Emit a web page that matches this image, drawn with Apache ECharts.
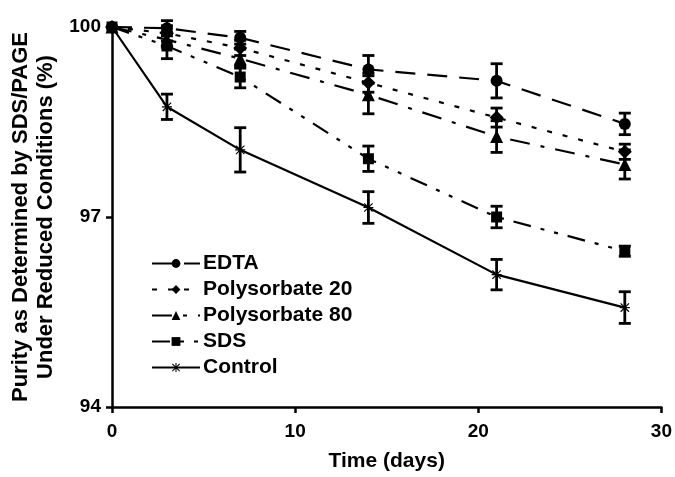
<!DOCTYPE html>
<html>
<head>
<meta charset="utf-8">
<script src="https://cdn.jsdelivr.net/npm/echarts@6/dist/echarts.min.js"></script>
<style>
  html, body { margin: 0; padding: 0; background: #fff; }
  #chart { width: 675px; height: 477px; }
</style>
</head>
<body>
<div id="chart"></div>
<script>
  // data
  var days = [0, 3, 7, 14, 21, 28];
  var edta = [100, 99.98, 99.83, 99.33, 99.15, 98.47];
  var edtaErr = [0, 0.12, 0.1, 0.22, 0.27, 0.17];
  var poly20 = [100, 99.9, 99.67, 99.12, 98.57, 98.03];
  var poly20Err = [0, 0.12, 0.12, 0.15, 0.15, 0.12];
  var poly80 = [100, 99.8, 99.5, 98.93, 98.27, 97.83];
  var poly80Err = [0, 0.12, 0.15, 0.3, 0.25, 0.23];
  var sds = [100, 99.7, 99.21, 97.92, 97.0, 96.46];
  var sdsErr = [0, 0.2, 0.17, 0.2, 0.17, 0.08];
  var control = [100, 98.74, 98.06, 97.15, 96.09, 95.57];
  var controlErr = [0, 0.2, 0.35, 0.25, 0.24, 0.25];
  var yTicks = [94, 97, 100];
  var xTicks = [0, 10, 20, 30];

  var font = 'Liberation Sans, Arial, sans-serif';
  var asterisk = 'path://M4.4,0h1.2v10h-1.2z M0,4.4h10v1.2h-10z M1.2,0.4l8.4,8.4l-0.8,0.8l-8.4,-8.4z M8.8,0.4l0.8,0.8l-8.4,8.4l-0.8,-0.8z';

  function pairs(vals) {
    return days.map(function (d, i) { return [d, vals[i]]; });
  }
  function errData(vals, errs) {
    var out = [];
    days.forEach(function (d, i) {
      if (errs[i] > 0) out.push([d, vals[i] - errs[i], vals[i] + errs[i]]);
    });
    return out;
  }
  function errorBars(name, vals, errs) {
    return {
      name: name + ' err',
      type: 'custom',
      z: 5,
      silent: true,
      data: errData(vals, errs),
      renderItem: function (params, api) {
        var lo = api.coord([api.value(0), api.value(1)]);
        var hi = api.coord([api.value(0), api.value(2)]);
        var w = 6;
        var st = { stroke: '#000', lineWidth: 2.8 };
        return {
          type: 'group',
          children: [
            { type: 'line', shape: { x1: lo[0], y1: lo[1], x2: hi[0], y2: hi[1] }, style: st },
            { type: 'line', shape: { x1: lo[0] - w, y1: lo[1], x2: lo[0] + w, y2: lo[1] }, style: st },
            { type: 'line', shape: { x1: hi[0] - w, y1: hi[1], x2: hi[0] + w, y2: hi[1] }, style: st }
          ]
        };
      }
    };
  }
  function lineSeries(name, vals, symbol, size, dash) {
    return {
      name: name,
      type: 'line',
      data: pairs(vals),
      symbol: symbol,
      symbolSize: size,
      showSymbol: true,
      z: 4,
      itemStyle: { color: '#000', borderWidth: 0 },
      lineStyle: { color: '#000', width: 2.2, type: dash },
      emphasis: { disabled: true },
      animation: false
    };
  }

  var chart = echarts.init(document.getElementById('chart'));
  chart.setOption({
    animation: false,
    backgroundColor: '#fff',
    grid: { left: 112, right: 13, top: 27, bottom: 69 },
    legend: {
      data: ['EDTA', 'Polysorbate 20', 'Polysorbate 80', 'SDS', 'Control'],
      orient: 'vertical',
      left: 146,
      top: 248,
      itemWidth: 48,
      itemHeight: 11,
      itemGap: 5,
      textStyle: { fontFamily: font, fontWeight: 'bold', fontSize: 21, color: '#000', padding: [0, 0, 0, -2] }
    },
    xAxis: {
      type: 'value',
      min: 0, max: 30, interval: 10,
      name: 'Time (days)',
      nameLocation: 'middle',
      nameGap: 44,
      nameTextStyle: { fontFamily: font, fontWeight: 'bold', fontSize: 21, color: '#000' },
      axisLine: { lineStyle: { color: '#000', width: 2.5 } },
      axisTick: { show: true, length: 6, lineStyle: { color: '#000', width: 2.5 } },
      axisLabel: {
        fontFamily: font, fontWeight: 'bold', fontSize: 19, color: '#000', margin: 15,
        formatter: function (v) { return xTicks.indexOf(v) >= 0 ? String(v) : ''; }
      },
      splitLine: { show: false }
    },
    yAxis: {
      type: 'value',
      min: 94, max: 100, interval: 3,
      name: 'Purity as Determined by SDS/PAGE\nUnder Reduced Conditions (%)',
      nameLocation: 'middle',
      nameRotate: 90,
      nameGap: 52,
      nameTextStyle: { fontFamily: font, fontWeight: 'bold', fontSize: 22, lineHeight: 25, color: '#000', align: 'center' },
      axisLine: { show: true, lineStyle: { color: '#000', width: 2.5 } },
      axisTick: { show: true, length: 6, lineStyle: { color: '#000', width: 2.5 } },
      axisLabel: {
        fontFamily: font, fontWeight: 'bold', fontSize: 19, color: '#000', margin: 11,
        formatter: function (v) { return yTicks.indexOf(v) >= 0 ? String(v) : ''; }
      },
      splitLine: { show: false }
    },
    series: [
      lineSeries('EDTA', edta, 'circle', 12, [20, 12]),
      lineSeries('Polysorbate 20', poly20, 'diamond', 14, [5, 11]),
      lineSeries('Polysorbate 80', poly80, 'triangle', 13, [20, 11, 4, 11]),
      lineSeries('SDS', sds, 'rect', 11, [18, 10, 4, 10, 4, 10]),
      lineSeries('Control', control, asterisk, 10, 'solid'),
      errorBars('EDTA', edta, edtaErr),
      errorBars('Polysorbate 20', poly20, poly20Err),
      errorBars('Polysorbate 80', poly80, poly80Err),
      errorBars('SDS', sds, sdsErr),
      errorBars('Control', control, controlErr)
    ]
  });
</script>
</body>
</html>
